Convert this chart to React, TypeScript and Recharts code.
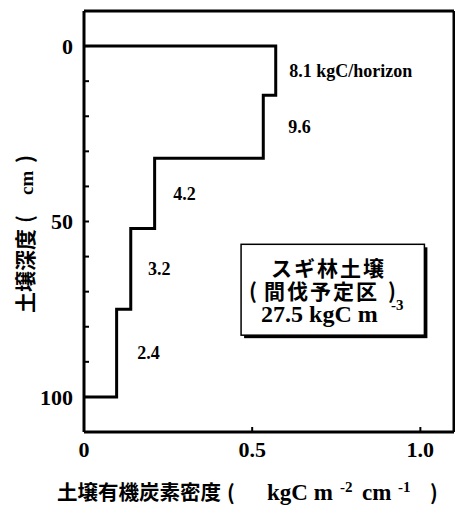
import React from 'react';
import { LineChart, Line, XAxis, YAxis, ReferenceDot, ReferenceArea } from 'recharts';

// soil horizons: depth boundaries (cm) and carbon density of each layer
const depthBounds = [0, 14, 32, 52, 75, 100];
const layerDensity = [0.57, 0.533, 0.21, 0.139, 0.097];
const layerStock = ['8.1 kgC/horizon', '9.6', '4.2', '3.2', '2.4'];
const stockLabelX = [0.61, 0.607, 0.265, 0.19, 0.158];

const xTicks = [0, 0.5, 1.0];
const yTicks = [-10, 0, 10, 20, 30, 40, 50, 60, 70, 80, 90, 100, 110];
const yLabelTicks = [0, 50, 100];

const boxX = [0.467, 1.012];
const boxY = [56.5, 82.4];

const SERIF = '"Liberation Serif", "Times New Roman", serif';
const CJK = '"Noto Sans CJK JP", "Noto Sans", sans-serif';

// step profile: down each layer at its density
const profile: { x: number; y: number }[] = [{ x: 0, y: depthBounds[0] }];
layerDensity.forEach((d, i) => {
  profile.push({ x: d, y: depthBounds[i] });
  profile.push({ x: d, y: depthBounds[i + 1] });
});
profile.push({ x: 0, y: depthBounds[depthBounds.length - 1] });

const axisLine = { stroke: '#000', strokeWidth: 3 };
const tickLine = { stroke: '#000', strokeWidth: 2 };

const XTick = (props: any) => {
  const { x, y, payload } = props;
  const v = payload.value;
  return (
    <text x={x} y={y} dy="0.71em" textAnchor="middle" fontFamily={SERIF} fontWeight="bold" fontSize={22} fill="#000">
      {v === 0 ? '0' : v.toFixed(1)}
    </text>
  );
};

const YTick = (props: any) => {
  const { x, y, payload } = props;
  if (!yLabelTicks.includes(payload.value)) return <g />;
  return (
    <text x={x} y={y} dy="0.35em" textAnchor="end" fontFamily={SERIF} fontWeight="bold" fontSize={22} fill="#000">
      {payload.value}
    </text>
  );
};

const XTitle = (props: any) => {
  const vb = props.viewBox;
  const base = vb.y + 68;
  const x0 = vb.x - 27;
  return (
    <text y={base} fill="#000" fontWeight="bold">
      <tspan x={x0} fontFamily={CJK} fontSize={20.5}>土壌有機炭素密度</tspan>
      <tspan x={x0 + 170} fontFamily={CJK} fontSize={20.5}>(</tspan>
      <tspan x={x0 + 210} fontFamily={SERIF} fontSize={23}>kgC m</tspan>
      <tspan x={x0 + 283} y={base - 8} fontFamily={SERIF} fontSize={15}>-2</tspan>
      <tspan x={x0 + 305} y={base} fontFamily={SERIF} fontSize={23}>cm</tspan>
      <tspan x={x0 + 341} y={base - 8} fontFamily={SERIF} fontSize={15}>-1</tspan>
      <tspan x={x0 + 373} y={base} fontFamily={CJK} fontSize={20.5}>)</tspan>
    </text>
  );
};

const YTitle = (props: any) => {
  const vb = props.viewBox;
  const px = vb.x + 33;
  const py = vb.y + 302;
  return (
    <text y={py} transform={`rotate(-90, ${px}, ${py})`} fill="#000" fontWeight="bold">
      <tspan x={px} fontFamily={CJK} fontSize={21}>土壌深度</tspan>
      <tspan x={px + 90} fontFamily={CJK} fontSize={21}>(</tspan>
      <tspan x={px + 118} fontFamily={SERIF} fontSize={19}>cm</tspan>
      <tspan x={px + 150} fontFamily={CJK} fontSize={21}>)</tspan>
    </text>
  );
};

const StockLabel = (text: string) => (props: any) => {
  const vb = props.viewBox;
  return (
    <text x={vb.x} y={vb.y} dy="0.35em" textAnchor="start" fontFamily={SERIF} fontWeight="bold" fontSize={18} fill="#000">
      {text}
    </text>
  );
};

const InfoBox = (props: any) => {
  const { x, y, width, height } = props;
  return (
    <g>
      <rect x={x + 3} y={y + 3} width={width} height={height} fill="#000" />
      <rect x={x} y={y} width={width} height={height} fill="#fff" stroke="#000" strokeWidth={1.5} />
      <text x={x + 30} y={y + 32} fontFamily={CJK} fontWeight="bold" fontSize={21} letterSpacing={2} fill="#000">
        スギ林土壌
      </text>
      <text y={y + 55} fontFamily={CJK} fontWeight="bold" fontSize={21} fill="#000">
        <tspan x={x + 8}>(</tspan>
        <tspan x={x + 23} letterSpacing={2}>間伐予定区</tspan>
        <tspan x={x + 147}>)</tspan>
      </text>
      <text x={x + 20} y={y + 78} fontFamily={SERIF} fontWeight="bold" fontSize={24} fill="#000">
        27.5 kgC m
      </text>
      <text x={x + 150} y={y + 66} fontFamily={SERIF} fontWeight="bold" fontSize={15} fill="#000">
        -3
      </text>
    </g>
  );
};

export default function App() {
  return (
    <div style={{ position: 'absolute', left: 0, top: 0, background: '#fff' }}>
      <LineChart width={455} height={511} data={profile} margin={{ top: 0, right: 0, bottom: 0, left: 0 }}>
        <XAxis
          dataKey="x"
          type="number"
          domain={[0, 1.1]}
          ticks={xTicks}
          interval={0}
          allowDataOverflow
          height={79}
          tickSize={-5}
          tickMargin={14}
          axisLine={axisLine}
          tickLine={tickLine}
          tick={<XTick />}
          label={{ content: <XTitle /> }}
        />
        <XAxis
          xAxisId="top"
          orientation="top"
          type="number"
          domain={[0, 1.1]}
          ticks={xTicks}
          interval={0}
          allowDataOverflow
          height={11}
          tickSize={-5}
          axisLine={axisLine}
          tickLine={tickLine}
          tick={false}
        />
        <YAxis
          type="number"
          domain={[-10, 110]}
          reversed
          ticks={yTicks}
          interval={0}
          allowDataOverflow
          width={84}
          tickSize={-5}
          tickMargin={16}
          axisLine={axisLine}
          tickLine={tickLine}
          tick={<YTick />}
          label={{ content: <YTitle /> }}
        />
        <YAxis
          yAxisId="right"
          orientation="right"
          type="number"
          domain={[-10, 110]}
          reversed
          ticks={yTicks}
          interval={0}
          allowDataOverflow
          width={1}
          tickSize={-5}
          axisLine={axisLine}
          tickLine={tickLine}
          tick={false}
        />
        <ReferenceArea x1={boxX[0]} x2={boxX[1]} y1={boxY[0]} y2={boxY[1]} shape={<InfoBox />} ifOverflow="visible" />
        <Line
          dataKey="y"
          type="linear"
          stroke="#000"
          strokeWidth={3}
          dot={false}
          activeDot={false}
          isAnimationActive={false}
        />
        {layerStock.map((s, i) => (
          <ReferenceDot
            key={s}
            x={stockLabelX[i]}
            y={(depthBounds[i] + depthBounds[i + 1]) / 2}
            r={0}
            fill="none"
            stroke="none"
            label={{ content: StockLabel(s) }}
          />
        ))}
      </LineChart>
    </div>
  );
}
